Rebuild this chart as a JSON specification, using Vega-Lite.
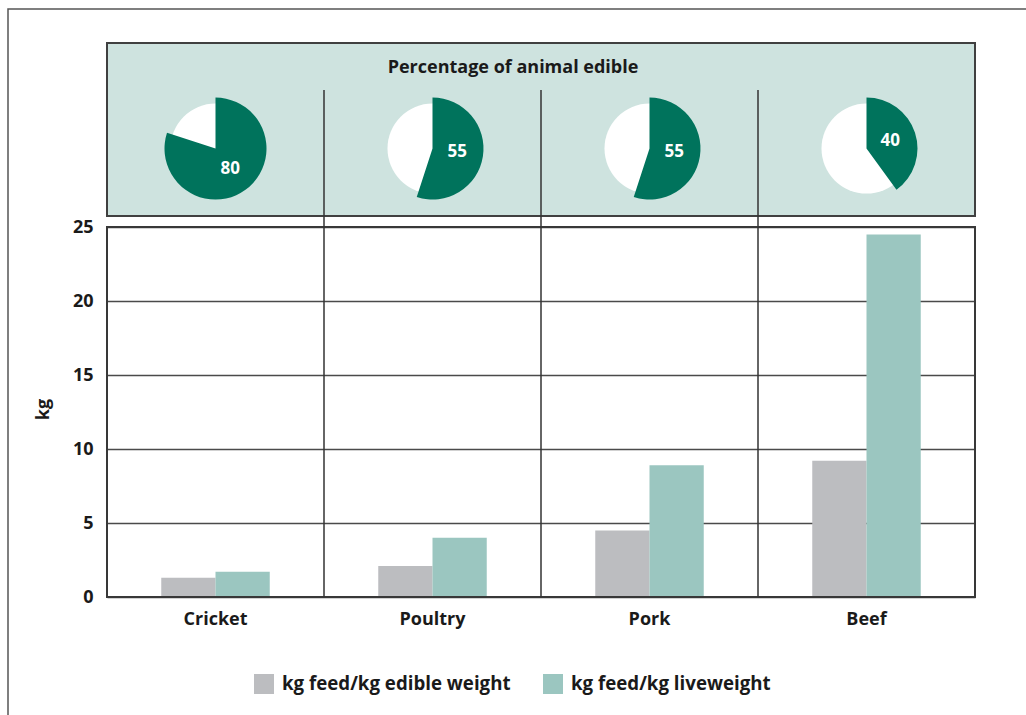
{
  "$schema": "https://vega.github.io/schema/vega-lite/v6.json",
  "width": 1066,
  "height": 720,
  "autosize": {"type": "none"},
  "padding": {"left": 8, "top": 9, "right": -48, "bottom": -14},
  "background": "white",
  "config": {
    "font": "Open Sans",
    "view": {"stroke": "#555555", "strokeWidth": 1.5, "fill": "white"}
  },
  "datasets": {
    "animals": [
      {"animal": "Cricket", "pct": 80},
      {"animal": "Poultry", "pct": 55},
      {"animal": "Pork", "pct": 55},
      {"animal": "Beef", "pct": 40}
    ],
    "feed": [
      {"animal": "Cricket", "measure": "kg feed/kg edible weight", "value": 1.3},
      {"animal": "Cricket", "measure": "kg feed/kg liveweight", "value": 1.7},
      {"animal": "Poultry", "measure": "kg feed/kg edible weight", "value": 2.1},
      {"animal": "Poultry", "measure": "kg feed/kg liveweight", "value": 4.0},
      {"animal": "Pork", "measure": "kg feed/kg edible weight", "value": 4.5},
      {"animal": "Pork", "measure": "kg feed/kg liveweight", "value": 8.9},
      {"animal": "Beef", "measure": "kg feed/kg edible weight", "value": 9.2},
      {"animal": "Beef", "measure": "kg feed/kg liveweight", "value": 24.5}
    ]
  },
  "layer": [
    {
      "data": {"values": [{}]},
      "mark": {"type": "rect", "fill": "#cee3df", "stroke": "#404040", "strokeWidth": 2},
      "encoding": {
        "x": {"datum": "Cricket", "type": "nominal", "bandPosition": 0},
        "x2": {"datum": "Beef", "bandPosition": 1},
        "y": {"datum": 25.74, "type": "quantitative"},
        "y2": {"datum": 37.43}
      }
    },
    {
      "data": {"name": "feed"},
      "mark": {"type": "bar"},
      "encoding": {
        "x": {
          "field": "animal",
          "type": "nominal",
          "scale": {"domain": ["Cricket", "Poultry", "Pork", "Beef"], "range": [99, 967], "paddingInner": 0, "paddingOuter": 0},
          "axis": {"orient": "bottom", "offset": -132, "domain": false, "ticks": false, "grid": false, "labelAngle": 0, "labelAlign": "center", "labelBaseline": "top", "labelFontSize": 18, "labelFontWeight": "bold", "labelColor": "#1a1a1a", "labelPadding": 13, "title": null}
        },
        "xOffset": {"field": "measure", "type": "nominal", "scale": {"paddingOuter": 1, "paddingInner": 0}},
        "y": {
          "field": "value",
          "type": "quantitative",
          "scale": {"domain": [0, 25], "range": [588, 218], "nice": false, "zero": false},
          "axis": {"values": [0, 5, 10, 15, 20, 25], "offset": -99, "domain": false, "ticks": false, "grid": true, "gridColor": "#4a4a4a", "gridWidth": 1.5, "labelFontSize": 18, "labelFontWeight": "bold", "labelColor": "#1a1a1a", "labelPadding": 14, "labelFlush": false, "title": "kg", "titleFontSize": 18, "titleFontWeight": "bold", "titleColor": "#1a1a1a", "titleX": -64, "titleY": 400, "titleAngle": -90, "titleBaseline": "middle", "titleAlign": "center"}
        },
        "color": {
          "field": "measure",
          "type": "nominal",
          "scale": {"domain": ["kg feed/kg edible weight", "kg feed/kg liveweight"], "range": ["#bcbdc0", "#9bc6c0"]},
          "legend": {"title": null, "orient": "none", "legendX": 246, "legendY": 665, "direction": "horizontal", "symbolType": "square", "symbolSize": 400, "symbolStrokeWidth": 0, "symbolOpacity": 1, "labelFontSize": 18.7, "labelFontWeight": "bold", "labelColor": "#1a1a1a", "labelOffset": 8, "columnPadding": 32, "labelLimit": 400}
        }
      }
    },
    {
      "data": {"values": [{}]},
      "mark": {"type": "rect", "fill": "white", "fillOpacity": 0, "stroke": "#383838", "strokeWidth": 2},
      "encoding": {
        "x": {"datum": "Cricket", "type": "nominal", "bandPosition": 0},
        "x2": {"datum": "Beef", "bandPosition": 1},
        "y": {"datum": 0, "type": "quantitative"},
        "y2": {"datum": 25}
      }
    },
    {
      "data": {"name": "animals"},
      "transform": [{"filter": "datum.animal !== 'Cricket'"}],
      "mark": {"type": "rule", "color": "#333333", "strokeWidth": 1.5},
      "encoding": {
        "x": {"field": "animal", "type": "nominal", "bandPosition": 0},
        "y": {"datum": 0, "type": "quantitative"},
        "y2": {"datum": 34.26}
      }
    },
    {
      "data": {"name": "animals"},
      "mark": {"type": "circle", "size": 8100, "color": "white", "opacity": 1},
      "encoding": {
        "x": {"field": "animal", "type": "nominal"},
        "y": {"datum": 30.3, "type": "quantitative"}
      }
    },
    {
      "data": {"name": "animals"},
      "mark": {"type": "arc", "outerRadius": 51, "innerRadius": 0, "color": "#00735c"},
      "encoding": {
        "x": {"field": "animal", "type": "nominal"},
        "y": {"datum": 30.3, "type": "quantitative"},
        "theta": {"field": "pct", "type": "quantitative", "stack": null, "scale": {"domain": [0, 100]}},
        "theta2": {"datum": 0}
      }
    },
    {
      "data": {"name": "animals"},
      "mark": {"type": "text", "radius": 25, "color": "white", "fontSize": 17, "fontWeight": "bold", "align": "center", "baseline": "middle"},
      "encoding": {
        "x": {"field": "animal", "type": "nominal"},
        "y": {"datum": 30.3, "type": "quantitative"},
        "theta": {"field": "pct", "type": "quantitative", "scale": {"domain": [0, 200]}},
        "text": {"field": "pct", "type": "quantitative"}
      }
    },
    {
      "data": {"values": [{}]},
      "mark": {"type": "text", "text": "Percentage of animal edible", "fontSize": 18, "fontWeight": "bold", "color": "#1a1a1a", "dx": -28, "align": "center", "baseline": "middle"},
      "encoding": {
        "y": {"datum": 35.74, "type": "quantitative"}
      }
    }
  ],
  "resolve": {"scale": {"theta": "independent"}}
}
